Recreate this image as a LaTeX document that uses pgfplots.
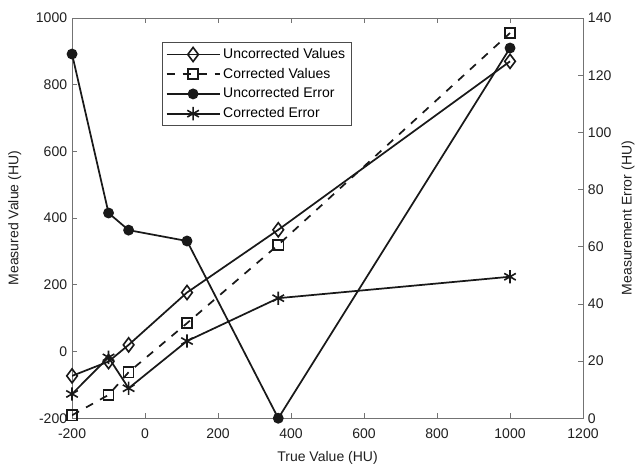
\documentclass[border=0pt]{standalone}
\usepackage{pgfplots}
\pgfplotsset{compat=1.18}
\usepackage{fontspec}
\setmainfont{Liberation Sans}
\definecolor{axgray}{gray}{0.45}
\definecolor{txt}{gray}{0.12}
\begin{document}
\fontsize{10.5}{12.6}\selectfont
\begin{tikzpicture}
\pgfplotsset{
  every axis/.append style={
    width=383pt, height=300pt, scale only axis,
    xmin=-200, xmax=1200,
    /pgf/number format/assume math mode=true,
    tick label style={font=\fontsize{10.5}{12}\selectfont, text=txt},
    label style={font=\fontsize{10.5}{12}\selectfont, text=txt},
    axis line style={axgray, line width=0.6pt},
    major tick style={axgray, line width=0.6pt},
    tick align=inside, major tick length=4pt,
    scaled ticks=false,
  },
}
\begin{axis}[
  ymin=-200, ymax=1000,
  xtick={-200,0,...,1200},
  ytick={-200,0,...,1000},
  xtick pos=both, ytick pos=left,
  xticklabel style={yshift=-4.5pt},
  xlabel={True Value (HU)},
  ylabel={Measured Value (HU)},
  xlabel style={at={(axis description cs:0.5,-0.1)}, anchor=center},
  ylabel style={at={(axis description cs:-0.112,0.5)}, anchor=center},
  /pgf/number format/set thousands separator={},
]
\addplot[black!90, line width=1.3pt, mark=diamond, mark size=5.3pt, mark options={solid, line width=1.2pt}]
  coordinates {(-200,-73) (-100,-30) (-45,20) (115,177) (365,365) (1000,870)};
\addplot[black!90, line width=1.3pt, dash pattern=on 6pt off 6pt, mark=square, mark size=3.8pt, mark options={solid, line width=1.2pt}]
  coordinates {(-200,-191) (-100,-130) (-45,-62) (115,85) (365,320) (1000,955)};
\end{axis}
\begin{axis}[
  ymin=0, ymax=140,
  ytick={0,20,...,140},
  axis x line=none,
  axis y line*=right,
  ylabel={Measurement Error (HU)},
  ylabel style={at={(axis description cs:1.088,0.5)}, anchor=center},
  legend style={at={(0.176,0.94)}, anchor=north west, draw=black!70, line width=0.5pt,
    font=\fontsize{10.5}{12.6}\selectfont, inner sep=2.5pt, row sep=1.6pt, fill=white},
  legend cell align=left,
  legend image code/.code={
    \draw[mark repeat=2, mark phase=2, #1] plot coordinates {(0cm,0cm) (0.7cm,0cm) (1.4cm,0cm)};
  },
]
\addlegendimage{black!90, line width=1.3pt, mark=diamond, mark size=5.3pt, mark options={solid, line width=1.2pt}}
\addlegendentry{Uncorrected Values}
\addlegendimage{black!90, line width=1.3pt, dash pattern=on 6pt off 6pt, mark=square, mark size=3.8pt, mark options={solid, line width=1.2pt}}
\addlegendentry{Corrected Values}
\addplot[black!90, line width=1.3pt, mark=*, mark size=3.4pt, mark options={solid, fill=black!90}]
  coordinates {(-200,127.4) (-100,71.8) (-45,65.8) (115,62) (365,0) (1000,129.5)};
\addlegendentry{Uncorrected Error}
\addplot[black!90, line width=1.3pt, mark=asterisk, mark size=5pt, mark options={solid, line width=1.2pt}]
  coordinates {(-200,8.5) (-100,21.3) (-45,10.5) (115,27) (365,42) (1000,49.5)};
\addlegendentry{Corrected Error}
\end{axis}
\pgfresetboundingbox
\path ([xshift=-54pt,yshift=-39.7pt]current axis.south west) rectangle ([xshift=42.7pt,yshift=13.5pt]current axis.north east);
\end{tikzpicture}
\end{document}
